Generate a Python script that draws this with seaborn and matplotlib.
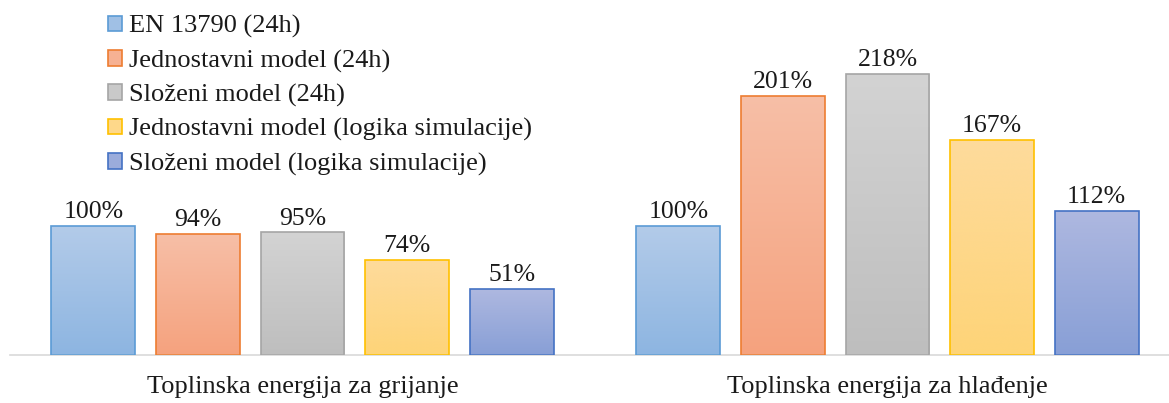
import numpy as np
import pandas as pd
import matplotlib
matplotlib.use("Agg")
import matplotlib.pyplot as plt
from matplotlib.colors import LinearSegmentedColormap
from matplotlib.patches import Patch
import seaborn as sns

categories = ["Toplinska energija za grijanje", "Toplinska energija za hlađenje"]
series = [
    "EN 13790 (24h)",
    "Jednostavni model (24h)",
    "Složeni model (24h)",
    "Jednostavni model (logika simulacije)",
    "Složeni model (logika simulacije)",
]
heating = [100, 94, 95, 74, 51]
cooling = [100, 201, 218, 167, 112]

# gradient (top, bottom) and outline colours per series
top_colors = ["#B3CBE9", "#F7BFA7", "#D3D3D3", "#FEDB9C", "#AEB8E0"]
bottom_colors = ["#8DB5E1", "#F5A27E", "#BEBEBE", "#FED478", "#889FD6"]
edge_colors = ["#5B9BD5", "#ED7D31", "#A5A5A5", "#FFC000", "#4472C4"]

rows = []
for cat, vals in zip(categories, [heating, cooling]):
    for s, v in zip(series, vals):
        rows.append({"category": cat, "series": s, "value": v})
df = pd.DataFrame(rows)

sns.set_theme(style="white")
plt.rcParams["font.family"] = ["Liberation Serif", "DejaVu Serif"]

W, H = 1169, 403
fig = plt.figure(figsize=(W / 100, H / 100), dpi=100)
left_px, right_px = 10, 1170
base_px, top_px = 355, 20
ax = fig.add_axes([left_px / W, (H - base_px) / H,
                   (right_px - left_px) / W, (base_px - top_px) / H])

mid_colors = []
for t, b in zip(top_colors, bottom_colors):
    ct = np.array(matplotlib.colors.to_rgb(t))
    cb = np.array(matplotlib.colors.to_rgb(b))
    mid_colors.append(tuple((ct + cb) / 2))

sns.barplot(data=df, x="category", y="value", hue="series",
            palette=mid_colors, width=0.894, gap=0.2, ax=ax,
            legend=False, errorbar=None, saturation=1)

px_per_unit = 1.29
x_max = -0.5 + (right_px - left_px) / 585
y_max = (base_px - top_px) / px_per_unit

# gradient fill for each bar, clipped to the bar shape
for i, container in enumerate(ax.containers):
    cmap = LinearSegmentedColormap.from_list(
        f"g{i}", [bottom_colors[i], top_colors[i]])
    grad = np.linspace(0, 1, 256).reshape(-1, 1)
    for bar in container:
        x0, y0 = bar.get_x(), bar.get_y()
        w, h = bar.get_width(), bar.get_height()
        bar.set_facecolor("none")
        bar.set_edgecolor(edge_colors[i])
        bar.set_linewidth(1.2)
        bar.set_zorder(3)
        im = ax.imshow(grad, cmap=cmap, origin="lower", aspect="auto",
                       extent=[x0, x0 + w, y0, y0 + h], zorder=2,
                       interpolation="bicubic")
        im.set_clip_path(bar)
    ax.bar_label(container, labels=[f"{int(v)}%" for v in container.datavalues],
                 padding=2, fontsize=18.5, color="#1a1a1a")

ax.set_xlim(-0.5, x_max)
ax.set_ylim(0, y_max)

for side in ["top", "left", "right"]:
    ax.spines[side].set_visible(False)
ax.spines["bottom"].set_color("#D9D9D9")
ax.spines["bottom"].set_linewidth(1.2)
ax.set_yticks([])
ax.set_xlabel("")
ax.set_ylabel("")
ax.tick_params(axis="x", length=0, pad=15, labelsize=19, colors="#1a1a1a")

handles = [Patch(facecolor=mid_colors[i], edgecolor=edge_colors[i], linewidth=1.2)
           for i in range(len(series))]
fig.legend(handles, series, loc="upper left",
           bbox_to_anchor=(108 / W, 1 - 15 / H), frameon=False, borderpad=0,
           borderaxespad=0, fontsize=19, handlelength=0.53, handleheight=0.53,
           handletextpad=0.27, labelspacing=0.43, labelcolor="#1a1a1a")

fig.savefig("out.png", dpi=100)
